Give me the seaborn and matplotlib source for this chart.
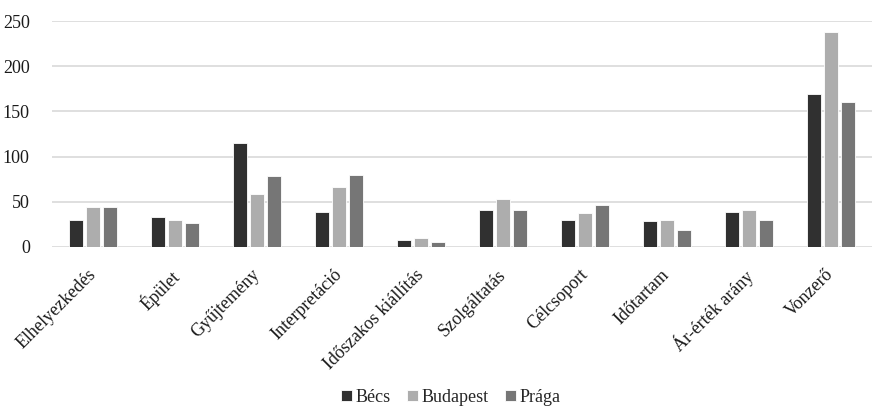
import matplotlib
matplotlib.use("Agg")
import matplotlib.pyplot as plt
import matplotlib.transforms as mtransforms
import seaborn as sns
import pandas as pd

categories = ["Elhelyezkedés", "Épület", "Gyűjtemény", "Interpretáció",
              "Időszakos kiállítás", "Szolgáltatás", "Célcsoport",
              "Időtartam", "Ár-érték arány", "Vonzerő"]
becs = [30, 33, 115, 39, 7, 41, 30, 28, 39, 169]
budapest = [44, 30, 58, 66, 10, 53, 37, 30, 41, 238]
praga = [44, 26, 78, 80, 5, 41, 46, 19, 30, 160]
series = ["Bécs", "Budapest", "Prága"]
colors = ["#303030", "#adadad", "#767676"]
yticks = [0, 50, 100, 150, 200, 250]

rows = []
for name, vals in zip(series, [becs, budapest, praga]):
    for cat, v in zip(categories, vals):
        rows.append({"kategória": cat, "város": name, "érték": v})
df = pd.DataFrame(rows)

sns.set_theme(style="white")
plt.rcParams["font.family"] = ["Liberation Serif", "DejaVu Serif"]

fig = plt.figure(figsize=(8.75, 4.08), dpi=100)
ax = fig.add_axes([52 / 875, (408 - 246.7) / 408, 820 / 875, 225.4 / 408])

sns.barplot(data=df, x="kategória", y="érték", hue="város",
            palette=colors, hue_order=series, order=categories,
            width=0.62, gap=0.15, ax=ax, legend=True,
            edgecolor="white", linewidth=0.6)

ax.set_ylim(0, 250)
ax.set_yticks(yticks)
ax.set_xlim(-0.5, len(categories) - 0.5)
ax.yaxis.grid(True, color="#d9d9d9", linewidth=1.2)
ax.set_axisbelow(True)
for s in ax.spines.values():
    s.set_visible(False)
ax.set_xlabel("")
ax.set_ylabel("")
ax.tick_params(axis="both", length=0, labelsize=13, colors="#1a1a1a")
ax.tick_params(axis="y", pad=16)
ax.tick_params(axis="x", pad=14)
shift = mtransforms.ScaledTranslation(-6 / 100, 0, fig.dpi_scale_trans)
for lbl in ax.get_xticklabels():
    lbl.set_rotation(45)
    lbl.set_ha("right")
    lbl.set_rotation_mode("anchor")
    lbl.set_transform(lbl.get_transform() + shift)

handles, labels = ax.get_legend_handles_labels()
ax.get_legend().remove()
fig.legend(handles, labels, loc="lower center", bbox_to_anchor=(0.515, -0.035),
           ncol=3, frameon=False, fontsize=13, handlelength=0.6,
           handleheight=0.6, handletextpad=0.2, columnspacing=0.9)

fig.savefig("out.png", dpi=100)
